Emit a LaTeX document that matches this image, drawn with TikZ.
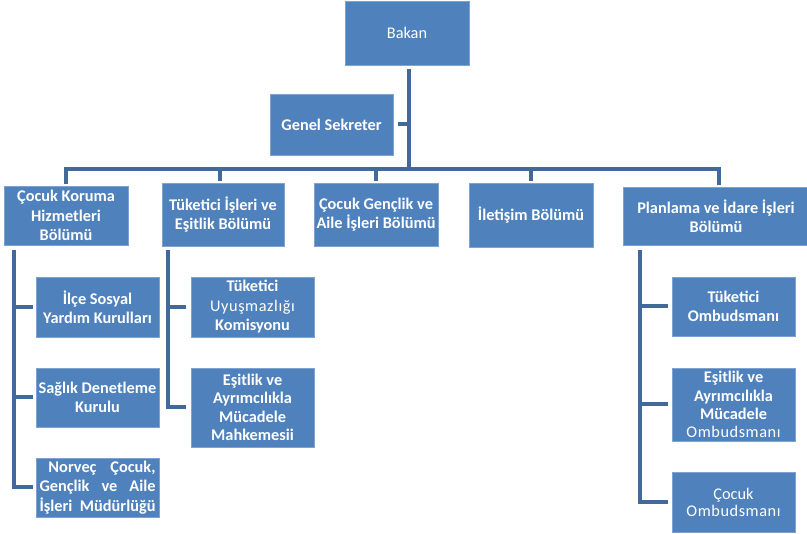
\documentclass[tikz,border=0pt]{standalone}
\usepackage{fontspec}
\setmainfont{Carlito}
\newfontfamily\spaced[LetterSpace=3.5]{Carlito}
\definecolor{boxfill}{HTML}{4F81BD}
\definecolor{boxedge}{HTML}{7EA3D3}
\definecolor{linecol}{HTML}{41699A}
\tikzset{
  box/.style={fill=boxfill, draw=boxedge, line width=0.8pt, text=white, font=\fontsize{16.3}{19.5}\selectfont\bfseries, align=center, inner sep=0pt, anchor=center},
  conn/.style={draw=linecol, line width=4pt},
}
\begin{document}
\begin{tikzpicture}[x=1pt,y=-1pt]
\useasboundingbox (0,0) rectangle (807,534);
% level 0/1
\node[box, minimum width=124pt, minimum height=64pt, font=\fontsize{16.3}{19.5}\selectfont] (bakan) at (407,33) {Bakan};
\node[box, minimum width=123pt, minimum height=61pt] (gs) at (331.5,124.5) {Genel Sekreter};
% level 2
\node[box, minimum width=124pt, minimum height=59pt] (ck) at (66,215.5) {Çocuk Koruma\\Hizmetleri\\Bölümü};
\node[box, minimum width=122pt, minimum height=63pt] (ti) at (223,214.5) {Tüketici İşleri ve\\Eşitlik Bölümü};
\node[box, minimum width=124pt, minimum height=63pt] (cg) at (376,214.5) {Çocuk Gençlik ve\\Aile İşleri Bölümü};
\node[box, minimum width=124pt, minimum height=64pt] (il) at (531,215) {İletişim Bölümü};
\node[box, minimum width=186pt, minimum height=58pt] (pl) at (716,216) {Planlama ve İdare İşleri\\Bölümü};
% level 3 left
\node[box, minimum width=123pt, minimum height=60pt] (is) at (97.5,307) {İlçe Sosyal\\Yardım Kurulları};
\node[box, minimum width=123pt, minimum height=59pt] (sd) at (97.5,397.5) {Sağlık Denetleme\\Kurulu};
\node[box, minimum width=123pt, minimum height=59pt] (nv) at (97.5,487.5) {\makebox[116pt][r]{\makebox[107pt][s]{Norveç Çocuk,}}\\\makebox[116pt][s]{Gençlik ve Aile}\\\makebox[116pt][s]{İşleri Müdürlüğü}};
% level 3 middle
\node[box, minimum width=123pt, minimum height=60pt] (tu) at (252.5,307) {Tüketici\\{\spaced\mdseries Uyuşmazlığı}\\Komisyonu};
\node[box, minimum width=123pt, minimum height=79pt, font=\fontsize{16.3}{18.5}\selectfont\bfseries] (ea) at (252.5,407.5) {Eşitlik ve\\Ayrımcılıkla\\Mücadele\\Mahkemesii};
% level 3 right
\node[box, minimum width=123pt, minimum height=59pt] (to) at (733.5,306.5) {Tüketici\\Ombudsmanı};
\node[box, minimum width=123pt, minimum height=73pt, font=\fontsize{16.3}{18.3}\selectfont\bfseries] (eo) at (733.5,404.5) {Eşitlik ve\\Ayrımcılıkla\\Mücadele\\{\spaced\mdseries Ombudsmanı}};
\node[box, minimum width=123pt, minimum height=60pt, font=\fontsize{16.3}{17}\selectfont] (co) at (733.5,502) {Çocuk\\{\spaced Ombudsmanı}};
% connectors
\coordinate (busL) at (66,169);
\coordinate (busR) at (719,169);
\coordinate (trunk) at (409,69);
\draw[conn] (trunk) -- (trunk |- busL);
\draw[conn, shorten <=5pt] (gs.east) -- (trunk |- gs.east);
\draw[conn] ([xshift=-2pt]busL) -- ([xshift=2pt]busR);
\draw[conn, shorten >=2pt] (busL) -- (busL |- ck.north);
\draw[conn, shorten >=2pt] ([xshift=-3pt]ti.north |- busL) -- ([xshift=-3pt]ti.north);
\draw[conn, shorten >=2pt] (cg.north |- busL) -- (cg.north);
\draw[conn, shorten >=2pt] (il.north |- busL) -- (il.north);
\draw[conn, shorten >=2pt] (busR) -- (busR |- pl.north);
% left column
\coordinate (vL) at (14,250);
\draw[conn, shorten >=3pt] (vL) |- (nv.west);
\draw[conn, shorten >=3pt] (vL |- is.west) -- (is.west);
\draw[conn, shorten >=3pt] (vL |- sd.west) -- (sd.west);
% middle column
\coordinate (vM) at (168,250);
\draw[conn, shorten >=5pt] (vM) |- (ea.west);
\draw[conn, shorten >=5pt] (vM |- tu.west) -- (tu.west);
% right column
\coordinate (vR) at (640,250);
\draw[conn, shorten >=4pt] (vR) |- (co.west);
\draw[conn, shorten >=4pt] (vR |- to.west) -- (to.west);
\draw[conn, shorten >=4pt] (vR |- eo.west) -- (eo.west);
\end{tikzpicture}
\end{document}
